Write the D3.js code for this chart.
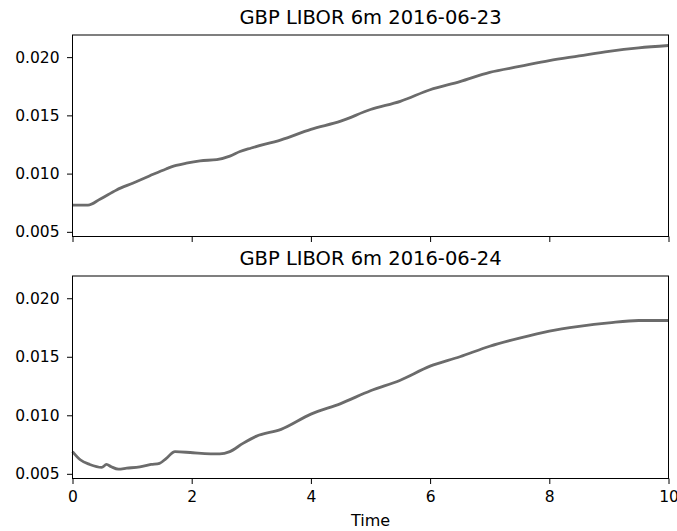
<!DOCTYPE html>
<html>
<head>
<meta charset="utf-8">
<script src="https://cdn.jsdelivr.net/npm/d3@7"></script>
<style>
  body { margin: 0; background: #fff; }
  text { font-family: "DejaVu Sans", sans-serif; fill: #000; }
</style>
</head>
<body>
<div id="chart-area"></div>
<script>
/***** Data *****/
const titles = ["GBP LIBOR 6m 2016-06-23", "GBP LIBOR 6m 2016-06-24"];
const xTicks = [0, 2, 4, 6, 8, 10];
const yTicks = [0.005, 0.010, 0.015, 0.020];

const t23 = [0, 0.26, 0.46, 0.74, 1.02, 1.29, 1.57, 1.74, 1.91, 2.14, 2.42, 2.64, 2.81, 3, 3.5, 4, 4.5, 5, 5.5, 6, 6.5, 7, 7.5, 8, 8.5, 9, 9.5, 10];
const v23 = [0.0073, 0.0073, 0.0078, 0.0086, 0.0092, 0.0098, 0.0104, 0.0107, 0.0109, 0.0111, 0.0112, 0.0115, 0.0119, 0.0122, 0.0129, 0.0138, 0.0145, 0.0155, 0.0162, 0.0172, 0.0179, 0.0187, 0.0192, 0.0197, 0.0201, 0.0205, 0.0208, 0.0210];

const t24 = [0, 0.13, 0.29, 0.49, 0.57, 0.65, 0.77, 0.91, 1.13, 1.32, 1.46, 1.57, 1.72, 2.02, 2.47, 2.64, 2.86, 3.08, 3.5, 4, 4.5, 5, 5.5, 6, 6.5, 7, 7.5, 8, 8.5, 9, 9.5, 10];
const v24 = [0.0069, 0.0062, 0.0058, 0.00555, 0.0058, 0.0056, 0.0054, 0.00548, 0.0056, 0.0058, 0.0059, 0.0063, 0.0069, 0.0068, 0.0067, 0.0069, 0.0076, 0.0082, 0.0088, 0.0101, 0.0110, 0.0121, 0.0130, 0.0142, 0.0150, 0.0159, 0.0166, 0.0172, 0.0176, 0.0179, 0.0181, 0.0181];

const series = [
  { title: titles[0], t: t23, v: v23 },
  { title: titles[1], t: t24, v: v24 }
];

/***** Layout *****/
const W = 677, H = 531;
const left = 72.5, right = 668.5;
const panels = [{ top: 35, bottom: 236.5 }, { top: 276, bottom: 478.5 }];

const svg = d3.select("#chart-area").append("svg")
  .attr("width", W).attr("height", H);

const x = d3.scaleLinear().domain([0, 10]).range([left, right]);

series.forEach((s, i) => {
  const p = panels[i];
  const y = d3.scaleLinear().domain([0.0046, 0.0219]).range([p.bottom, p.top]);
  const g = svg.append("g");

  const pts = s.t.map((t, k) => [t, s.v[k]]);
  const line = d3.line().x(d => x(d[0])).y(d => y(d[1])).curve(d3.curveMonotoneX);
  g.append("path").datum(pts)
    .attr("d", line)
    .attr("fill", "none")
    .attr("stroke", "#6b6b6b")
    .attr("stroke-width", 2.8)
    .attr("stroke-linejoin", "round");

  // frame
  g.append("rect")
    .attr("x", left).attr("y", p.top)
    .attr("width", right - left).attr("height", p.bottom - p.top)
    .attr("fill", "none").attr("stroke", "#000").attr("stroke-width", 1);

  const yAxis = g.append("g")
    .attr("transform", `translate(${left},0)`)
    .call(d3.axisLeft(y).tickValues(yTicks).tickFormat(d3.format(".3f")).tickSize(5.5).tickPadding(7.5));
  const xAxis = g.append("g")
    .attr("transform", `translate(0,${p.bottom})`)
    .call(d3.axisBottom(x).tickValues(xTicks).tickSize(5.5).tickPadding(7)
      .tickFormat(i === 1 ? d3.format("d") : () => ""));

  [yAxis, xAxis].forEach(a => {
    a.select(".domain").remove();
    a.selectAll("line").attr("stroke", "#000");
    a.selectAll("text").attr("font-size", 15.5).attr("fill", "#000")
      .style("font-family", "DejaVu Sans");
  });

  g.append("text")
    .attr("x", (left + right) / 2).attr("y", p.top - 11.5)
    .attr("text-anchor", "middle")
    .attr("font-size", 19.5)
    .text(s.title);
});

svg.append("text")
  .attr("x", (left + right) / 2).attr("y", 525.5)
  .attr("text-anchor", "middle")
  .attr("font-size", 16)
  .text("Time");
</script>
</body>
</html>
